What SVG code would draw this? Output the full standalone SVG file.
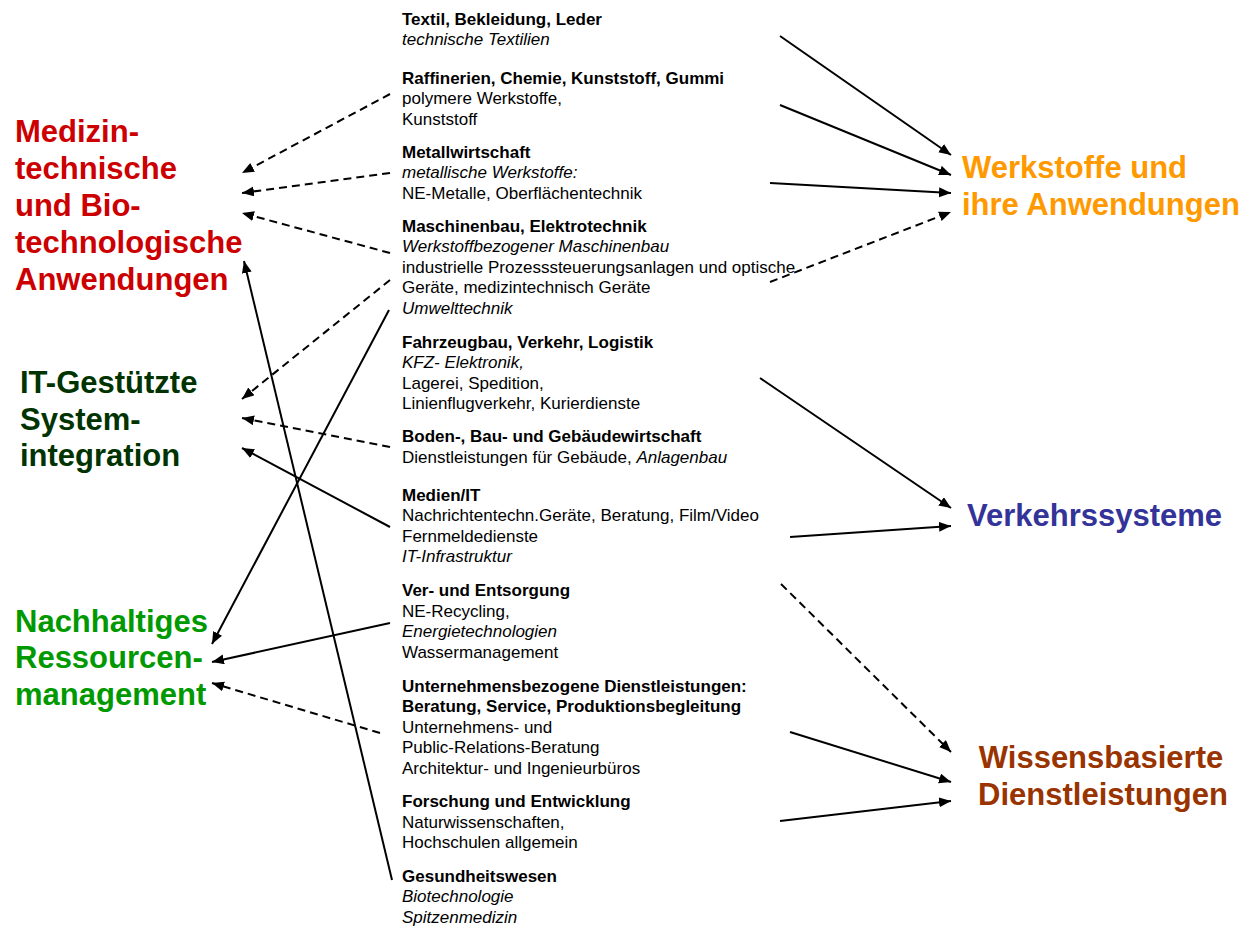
<svg xmlns="http://www.w3.org/2000/svg" width="1252" height="926" viewBox="0 0 1252 926">
<style>
.t{font-family:"Liberation Sans",Arial,sans-serif;font-size:17px;fill:#000}
.b{font-weight:bold}
.i{font-style:italic}
.h{font-family:"Liberation Sans",Arial,sans-serif;font-size:31px;font-weight:bold}
.red{fill:#cc0000}.dg{fill:#003300}.gr{fill:#009900}.or{fill:#ff9900}.bl{fill:#333399}.br{fill:#993300}
.c{stroke:#000;stroke-width:2;fill:none;marker-end:url(#ah)}
.d{stroke-dasharray:8 5}
</style>
<defs>
<marker id="ah" markerUnits="userSpaceOnUse" markerWidth="14" markerHeight="12" refX="12" refY="5" orient="auto">
<path d="M0,0 L12,5 L0,10 z" fill="#000"/>
</marker>
</defs>
<rect width="1252" height="926" fill="#fff"/>

<g id="medizin" class="h red">
<text x="15" y="142">Medizin-</text>
<text x="15" y="179">technische</text>
<text x="15" y="216">und Bio-</text>
<text x="15" y="253">technologische</text>
<text x="15" y="290">Anwendungen</text>
</g>
<g id="it" class="h dg">
<text x="20" y="393">IT-Gestützte</text>
<text x="20" y="430">System-</text>
<text x="20" y="466">integration</text>
</g>
<g id="nachhaltig" class="h gr">
<text x="15" y="632">Nachhaltiges</text>
<text x="15" y="668">Ressourcen-</text>
<text x="15" y="705">management</text>
</g>
<g id="werkstoffe" class="h or">
<text x="962" y="178">Werkstoffe und</text>
<text x="962" y="215">ihre Anwendungen</text>
</g>
<g id="verkehr" class="h bl">
<text x="967" y="526">Verkehrssysteme</text>
</g>
<g id="wissen" class="h br" text-anchor="middle">
<text x="1101" y="768">Wissensbasierte</text>
<text x="1103" y="805">Dienstleistungen</text>
</g>

<g id="textil" class="t">
<text x="402" y="24.5" class="b">Textil, Bekleidung, Leder</text>
<text x="402" y="45" class="i">technische Textilien</text>
</g>
<g id="raffinerien" class="t">
<text x="402" y="83.5" class="b">Raffinerien, Chemie, Kunststoff, Gummi</text>
<text x="402" y="104">polymere Werkstoffe,</text>
<text x="402" y="124.5">Kunststoff</text>
</g>
<g id="metall" class="t">
<text x="402" y="157.5" class="b">Metallwirtschaft</text>
<text x="402" y="178" class="i">metallische Werkstoffe:</text>
<text x="402" y="198.5">NE-Metalle, Oberflächentechnik</text>
</g>
<g id="maschinenbau" class="t">
<text x="402" y="231.5" class="b">Maschinenbau, Elektrotechnik</text>
<text x="402" y="252" class="i">Werkstoffbezogener Maschinenbau</text>
<text x="402" y="272.5">industrielle Prozesssteuerungsanlagen und optische</text>
<text x="402" y="293">Geräte, medizintechnisch Geräte</text>
<text x="402" y="313.5" class="i">Umwelttechnik</text>
</g>
<g id="fahrzeugbau" class="t">
<text x="402" y="347.5" class="b">Fahrzeugbau, Verkehr, Logistik</text>
<text x="402" y="368" class="i">KFZ- Elektronik,</text>
<text x="402" y="388.5">Lagerei, Spedition,</text>
<text x="402" y="409">Linienflugverkehr, Kurierdienste</text>
</g>
<g id="boden" class="t">
<text x="402" y="442" class="b">Boden-, Bau- und Gebäudewirtschaft</text>
<text x="402" y="462.5">Dienstleistungen für Gebäude, <tspan class="i">Anlagenbau</tspan></text>
</g>
<g id="medien" class="t">
<text x="402" y="500.5" class="b">Medien/IT</text>
<text x="402" y="521">Nachrichtentechn.Geräte, Beratung, Film/Video</text>
<text x="402" y="541.5">Fernmeldedienste</text>
<text x="402" y="562" class="i">IT-Infrastruktur</text>
</g>
<g id="versorgung" class="t">
<text x="402" y="596" class="b">Ver- und Entsorgung</text>
<text x="402" y="616.5">NE-Recycling,</text>
<text x="402" y="637" class="i">Energietechnologien</text>
<text x="402" y="657.5">Wassermanagement</text>
</g>
<g id="unternehmen" class="t">
<text x="402" y="691.5" class="b">Unternehmensbezogene Dienstleistungen:</text>
<text x="402" y="712" class="b">Beratung, Service, Produktionsbegleitung</text>
<text x="402" y="732.5">Unternehmens- und</text>
<text x="402" y="753">Public-Relations-Beratung</text>
<text x="402" y="773.5">Architektur- und Ingenieurbüros</text>
</g>
<g id="forschung" class="t">
<text x="402" y="807" class="b">Forschung und Entwicklung</text>
<text x="402" y="827.5">Naturwissenschaften,</text>
<text x="402" y="848">Hochschulen allgemein</text>
</g>
<g id="gesundheit" class="t">
<text x="402" y="881.5" class="b">Gesundheitswesen</text>
<text x="402" y="902" class="i">Biotechnologie</text>
<text x="402" y="922.5" class="i">Spitzenmedizin</text>
</g>

<g id="connectors">
<line class="c" x1="780" y1="36" x2="951" y2="155"/>
<line class="c" x1="780" y1="105" x2="951" y2="175"/>
<line class="c" x1="770" y1="183" x2="951" y2="193"/>
<line class="c d" x1="770" y1="282" x2="951" y2="212"/>
<line class="c" x1="760" y1="378" x2="951" y2="508"/>
<line class="c" x1="790" y1="537" x2="951" y2="526"/>
<line class="c d" x1="781" y1="584" x2="951" y2="752"/>
<line class="c" x1="790" y1="732" x2="951" y2="782"/>
<line class="c" x1="780" y1="821" x2="951" y2="801"/>
<line class="c d" x1="390" y1="94" x2="242" y2="173"/>
<line class="c d" x1="390" y1="173" x2="242" y2="193"/>
<line class="c d" x1="390" y1="253" x2="242" y2="213"/>
<line class="c d" x1="390" y1="280" x2="242" y2="399"/>
<line class="c d" x1="390" y1="447" x2="242" y2="418"/>
<line class="c" x1="390" y1="527" x2="242" y2="448"/>
<line class="c" x1="392" y1="880" x2="244" y2="261"/>
<line class="c" x1="389" y1="310" x2="212" y2="644"/>
<line class="c" x1="390" y1="623" x2="212" y2="662"/>
<line class="c d" x1="380" y1="733" x2="212" y2="683"/>
</g>
</svg>
